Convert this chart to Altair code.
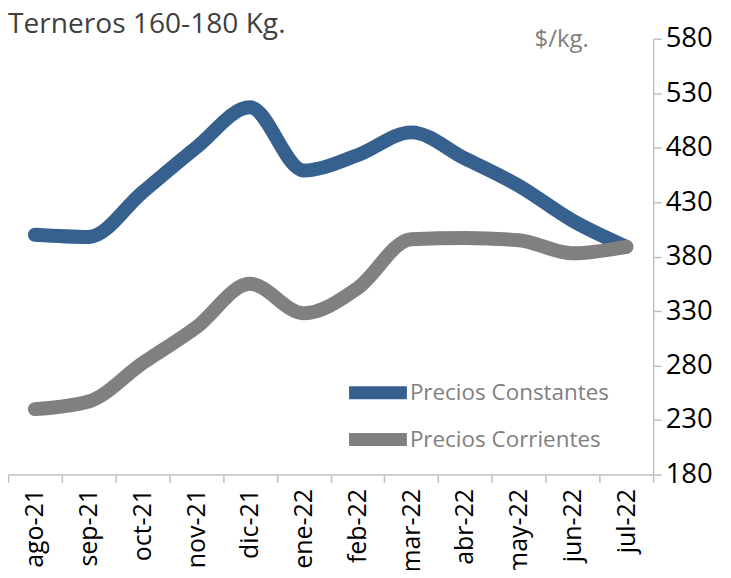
import altair as alt
import pandas as pd

meses = ["ago-21", "sep-21", "oct-21", "nov-21", "dic-21", "ene-22",
         "feb-22", "mar-22", "abr-22", "may-22", "jun-22", "jul-22"]
constantes = [400, 398, 439, 480, 517, 459, 473, 494, 470, 445, 413, 389]
corrientes = [240, 247, 282, 315, 355, 328, 351, 396, 397, 395, 383, 389]
series = ["Precios Constantes", "Precios Corrientes"]
colores = ["#36618f", "#808080"]
y_ticks = [180, 230, 280, 330, 380, 430, 480, 530, 580]

rows = []
for s, vals in zip(series, [constantes, corrientes]):
    for m, v in zip(meses, vals):
        rows.append({"mes": m, "valor": v, "serie": s})
df = pd.DataFrame(rows)

FONT = "Open Sans"

x_enc = alt.X("mes:N", sort=meses, bandPosition=0.5,
              scale=alt.Scale(type="band", paddingInner=0, paddingOuter=0),
              axis=alt.Axis(title=None, labelAngle=270, labelAlign="right",
                            labelBaseline="middle", labelPadding=6,
                            labelFontSize=25, labelFont=FONT, labelColor="#000000",
                            tickBand="extent", tickSize=8, tickColor="#bfbfbf",
                            tickWidth=1.5, domainColor="#bfbfbf", domainWidth=1.5,
                            grid=False))
y_enc = alt.Y("valor:Q",
              scale=alt.Scale(domain=[180, 580], nice=False, zero=False),
              axis=alt.Axis(title=None, orient="right", values=y_ticks,
                            labelFontSize=27.5, labelFont=FONT, labelColor="#000000",
                            labelPadding=4, tickSize=8, tickColor="#bfbfbf",
                            tickWidth=1.5, domainColor="#bfbfbf", domainWidth=1.5,
                            grid=False))
color_enc = alt.Color("serie:N",
                      scale=alt.Scale(domain=series, range=colores),
                      legend=alt.Legend(title=None, orient="none", legendX=350,
                                        legendY=334, symbolType="M-2,0L2,0",
                                        symbolSize=841, symbolStrokeWidth=13,
                                        labelFontSize=22.5, labelFont=FONT,
                                        labelColor="#7f7f7f", labelOffset=11,
                                        labelLimit=400, rowPadding=-5))

base = alt.Chart(df)
line_const = base.transform_filter(alt.datum.serie == series[0]).mark_line(
    strokeWidth=14, strokeCap="round", interpolate="monotone"
).encode(x=x_enc, y=y_enc, color=color_enc)
line_corr = base.transform_filter(alt.datum.serie == series[1]).mark_line(
    strokeWidth=14, strokeCap="round", interpolate="monotone"
).encode(x=x_enc, y=y_enc, color=color_enc)

titulo = alt.Chart(pd.DataFrame({"t": ["Terneros 160-180 Kg."]})).mark_text(
    align="left", baseline="alphabetic", font=FONT, fontSize=28.2, color="#404040"
).encode(x=alt.value(0), y=alt.value(-6), text="t:N")
unidad = alt.Chart(pd.DataFrame({"t": ["$/kg."]})).mark_text(
    align="left", baseline="alphabetic", font=FONT, fontSize=24, color="#808080"
).encode(x=alt.value(528), y=alt.value(8), text="t:N")

chart = alt.layer(line_const, line_corr, titulo, unidad).properties(
    width=647, height=437,
    autosize=alt.AutoSizeParams(type="none"),
    padding={"left": 0, "top": 30, "right": 70, "bottom": 95},
).configure_view(stroke=None)

chart.save("out.html", embed_options={"renderer": "svg", "actions": False})
